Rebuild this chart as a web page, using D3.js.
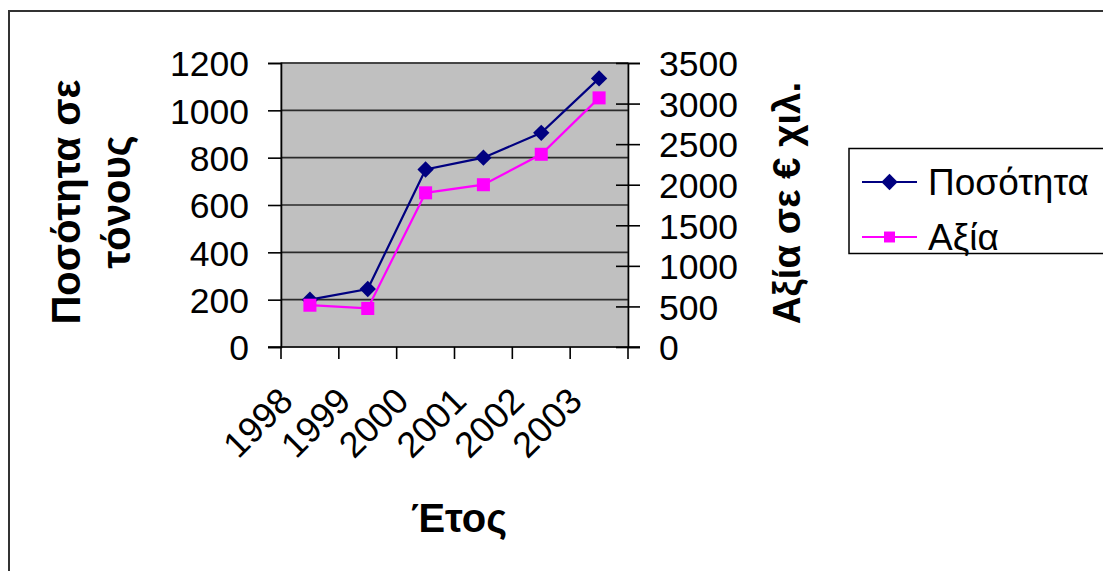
<!DOCTYPE html>
<html>
<head>
<meta charset="utf-8">
<script src="https://cdn.jsdelivr.net/npm/d3@7"></script>
<style>
  html, body { margin: 0; padding: 0; background: #fff; }
  svg { display: block; }
  text { font-family: "Liberation Sans", Arial, sans-serif; fill: #000; }
</style>
</head>
<body>
<svg id="chart" width="1103" height="571"></svg>
<script>
// Yearly quantity (tonnes) and value (thousand €)
const years = ["1998", "1999", "2000", "2001", "2002", "2003"];
const quantity = [200, 245, 750, 800, 905, 1135];
const value = [515, 475, 1900, 2000, 2375, 3070];
const leftTicks = [0, 200, 400, 600, 800, 1000, 1200];
const rightTicks = [0, 500, 1000, 1500, 2000, 2500, 3000, 3500];
const seriesNames = ["Ποσότητα", "Αξία"];

const svg = d3.select("#chart");
const plot = { left: 281, right: 628, top: 63, bottom: 347 };

// Outer chart frame
svg.append("rect")
  .attr("x", 9).attr("y", 11)
  .attr("width", 1110).attr("height", 580)
  .attr("fill", "#fff").attr("stroke", "#333").attr("stroke-width", 2);

const x = d3.scaleBand().domain(years).range([plot.left, plot.right]).padding(0);
const yL = d3.scaleLinear().domain([0, 1200]).range([plot.bottom, plot.top]);
const yR = d3.scaleLinear().domain([0, 3500]).range([plot.bottom, plot.top]);
const cx = d => x(d) + x.bandwidth() / 2;

// Plot background
svg.append("rect")
  .attr("x", plot.left).attr("y", plot.top)
  .attr("width", plot.right - plot.left).attr("height", plot.bottom - plot.top)
  .attr("fill", "#c0c0c0").attr("stroke", "#808080").attr("stroke-width", 1.5);

// Horizontal gridlines on the left scale
svg.append("g").selectAll("line")
  .data(leftTicks.filter(t => t > 0))
  .join("line")
  .attr("x1", plot.left).attr("x2", plot.right)
  .attr("y1", d => yL(d)).attr("y2", d => yL(d))
  .attr("stroke", "#2a2a2a").attr("stroke-width", 1.6);

// Left axis
const axL = svg.append("g")
  .attr("transform", `translate(${plot.left},0)`)
  .call(d3.axisLeft(yL).tickValues(leftTicks).tickSize(13).tickPadding(19).tickFormat(d3.format("d")));
axL.select(".domain").attr("stroke", "#000").attr("stroke-width", 1.6);
axL.selectAll(".tick line").attr("stroke", "#000").attr("stroke-width", 1.6);
axL.selectAll(".tick text").attr("font-size", 35.5).attr("dy", "0.36em")
  .attr("font-family", "Liberation Sans, Arial, sans-serif");

// Right axis (cross tick marks)
const axR = svg.append("g")
  .attr("transform", `translate(${plot.right},0)`)
  .call(d3.axisRight(yR).tickValues(rightTicks).tickSize(12).tickPadding(19).tickFormat(d3.format("d")));
axR.select(".domain").attr("stroke", "#000").attr("stroke-width", 1.6);
axR.selectAll(".tick line").attr("x1", -12).attr("stroke", "#000").attr("stroke-width", 1.6);
axR.selectAll(".tick text").attr("font-size", 35.5).attr("dy", "0.36em")
  .attr("font-family", "Liberation Sans, Arial, sans-serif");

// Category axis: baseline and tick marks at band edges
const edges = years.map(d => x(d)).concat([x.range()[1]]);
svg.append("line")
  .attr("x1", plot.left - 13).attr("x2", plot.right + 12)
  .attr("y1", plot.bottom).attr("y2", plot.bottom)
  .attr("stroke", "#000").attr("stroke-width", 1.6);
svg.append("g").selectAll("line")
  .data(edges)
  .join("line")
  .attr("x1", d => d).attr("x2", d => d)
  .attr("y1", plot.bottom).attr("y2", plot.bottom + 12)
  .attr("stroke", "#000").attr("stroke-width", 1.6);

// Rotated year labels
svg.append("g").selectAll("text")
  .data(years)
  .join("text")
  .attr("transform", d => `translate(${cx(d) - 15},${plot.bottom + 56}) rotate(-45)`)
  .attr("text-anchor", "end")
  .attr("font-size", 36)
  .text(d => d);

// Series lines
const qtyLine = d3.line().x((d, i) => cx(years[i])).y(d => yL(d));
const valLine = d3.line().x((d, i) => cx(years[i])).y(d => yR(d));

svg.append("path").datum(quantity)
  .attr("d", qtyLine).attr("fill", "none")
  .attr("stroke", "#000080").attr("stroke-width", 2.2);
svg.append("path").datum(value)
  .attr("d", valLine).attr("fill", "none")
  .attr("stroke", "#ff00ff").attr("stroke-width", 2.2);

const diamond = d3.symbol().type(d3.symbolDiamond2).size(170);
const square = d3.symbol().type(d3.symbolSquare).size(170);

svg.append("g").selectAll("path")
  .data(quantity)
  .join("path")
  .attr("d", diamond)
  .attr("transform", (d, i) => `translate(${cx(years[i])},${yL(d)})`)
  .attr("fill", "#000080");

svg.append("g").selectAll("path")
  .data(value)
  .join("path")
  .attr("d", square)
  .attr("transform", (d, i) => `translate(${cx(years[i])},${yR(d)})`)
  .attr("fill", "#ff00ff");

// Axis titles
const leftTitle = svg.append("text")
  .attr("transform", "translate(80,202) rotate(-90)")
  .attr("text-anchor", "middle")
  .attr("font-size", 40).attr("font-weight", "bold");
leftTitle.append("tspan").attr("x", 0).attr("y", 0).text("Ποσότητα σε");
leftTitle.append("tspan").attr("x", 0).attr("y", 50).text("τόνους");

svg.append("text")
  .attr("transform", "translate(800,203) rotate(-90)")
  .attr("text-anchor", "middle")
  .attr("font-size", 38.5).attr("font-weight", "bold")
  .text("Αξία σε € χιλ.");

svg.append("text")
  .attr("x", 459).attr("y", 532)
  .attr("text-anchor", "middle")
  .attr("font-size", 40).attr("font-weight", "bold")
  .text("Έτος");

// Legend
const legend = svg.append("g");
legend.append("rect")
  .attr("x", 849).attr("y", 148.5)
  .attr("width", 300).attr("height", 105)
  .attr("fill", "#fff").attr("stroke", "#000").attr("stroke-width", 1.5);

const legendItems = [
  { name: seriesNames[0], color: "#000080", sym: diamond, y: 182 },
  { name: seriesNames[1], color: "#ff00ff", sym: d3.symbol().type(d3.symbolSquare).size(120), y: 237 }
];
const li = legend.selectAll("g.item").data(legendItems).join("g").attr("class", "item");
li.append("line")
  .attr("x1", 862).attr("x2", 917)
  .attr("y1", d => d.y).attr("y2", d => d.y)
  .attr("stroke", d => d.color).attr("stroke-width", 2.2);
li.append("path")
  .attr("d", d => d.sym())
  .attr("transform", d => `translate(889.5,${d.y})`)
  .attr("fill", d => d.color);
li.append("text")
  .attr("x", 928).attr("y", d => d.y + 12.5)
  .attr("font-size", 37)
  .text(d => d.name);
</script>
</body>
</html>
